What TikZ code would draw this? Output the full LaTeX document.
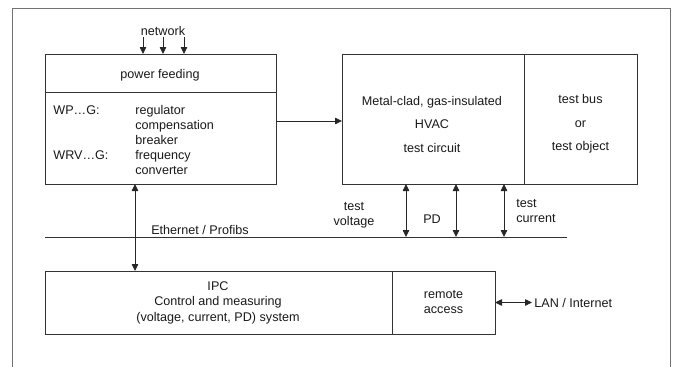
\documentclass[tikz,border=0pt]{standalone}
\usepackage{fontspec}
\setmainfont{Liberation Sans}
\usetikzlibrary{arrows.meta}
\begin{document}
\begin{tikzpicture}[x=1pt,y=-1pt,
  font=\fontsize{12.6}{15}\selectfont,
  line width=0.8pt,
  box/.style={draw=black!80, inner sep=0pt, outer sep=0pt},
  arr/.style={draw=black!85, -{Triangle[length=7pt,width=6.5pt]}},
  darr/.style={draw=black!85, {Triangle[length=7pt,width=6.5pt]}-{Triangle[length=7pt,width=6.5pt]}},
  txt/.style={inner sep=0pt, align=center, text=black!90}]
\useasboundingbox (0,0) rectangle (673,367);
% outer frame
\draw[gray!90!black, line width=1pt] (12,367) -- (12,8) -- (670,8) -- (670,367);
% boxes
\node[box, minimum width=231pt, minimum height=130pt] (pf) at (160.5,119) {};
\draw[black!80] (pf.west |- 0,92) -- (pf.east |- 0,92);
\node[box, minimum width=182pt, minimum height=130pt] (hvac) at (433,119) {};
\node[box, minimum width=113pt, minimum height=130pt] (tb) at (580.5,119) {};
\node[box, minimum width=347pt, minimum height=63pt] (ipc) at (218.5,302.5) {};
\node[box, minimum width=103pt, minimum height=63pt] (ra) at (443.5,302.5) {};
% texts
\node[txt] (net) at (163,31) {network};
\node[txt] (pft) at (160,75) {power feeding};
\node[txt, anchor=west] (wp) at (53,110) {WP…G:};
\node[txt, anchor=west] (wrv) at (53,155) {WRV…G:};
\node[txt, anchor=west, align=left] (list) at (135,140) {regulator\\compensation\\breaker\\frequency\\converter};
\node[txt, font=\fontsize{12.6}{23.5}\selectfont] (hvt) at (432,124) {Metal-clad, gas-insulated\\HVAC\\test circuit};
\node[txt, font=\fontsize{12.6}{23.5}\selectfont] (tbt) at (580.5,124) {test bus\\or\\test object};
\node[txt] (tv) at (354,215.5) {test\\voltage};
\node[txt] (pd) at (432,219) {PD};
\node[txt, anchor=west, align=left] (tc) at (516,211) {test\\current};
\node[txt] (eth) at (200,229.5) {Ethernet / Profibs};
\node[txt, font=\fontsize{12.6}{15.5}\selectfont] (ipct) at (218,302.5) {IPC\\Control and measuring\\(voltage, current, PD) system};
\node[txt] (rat) at (443.5,301.5) {remote\\access};
\node[txt, anchor=west] (lan) at (534,302.5) {LAN / Internet};
% bus line
\coordinate (busL) at (45,237);
\coordinate (busR) at (567,237);
\draw[black!80] (busL) -- (busR);
% network arrows
\coordinate (n1) at (143,37);
\coordinate (n2) at (163,37);
\coordinate (n3) at (184,37);
\draw[arr] (n1) -- (n1 |- pf.north);
\draw[arr] (n2) -- (n2 |- pf.north);
\draw[arr] (n3) -- (n3 |- pf.north);
% power feeding -> HVAC
\coordinate (h) at (0,121);
\draw[arr] (pf.east |- h) -- (hvac.west |- h);
% power feeding <-> IPC
\coordinate (v) at (135,0);
\draw[darr] (v |- pf.south) -- (v |- ipc.north);
% HVAC <-> bus
\coordinate (b1) at (406,237);
\coordinate (b2) at (456,237);
\coordinate (b3) at (504,237);
\draw[darr] (b1 |- hvac.south) -- (b1);
\draw[darr] (b2 |- hvac.south) -- (b2);
\draw[darr] (b3 |- tb.south) -- (b3);
% remote <-> LAN
\draw[darr, shorten >=2pt] (ra.east) -- (lan.west);
\end{tikzpicture}
\end{document}
